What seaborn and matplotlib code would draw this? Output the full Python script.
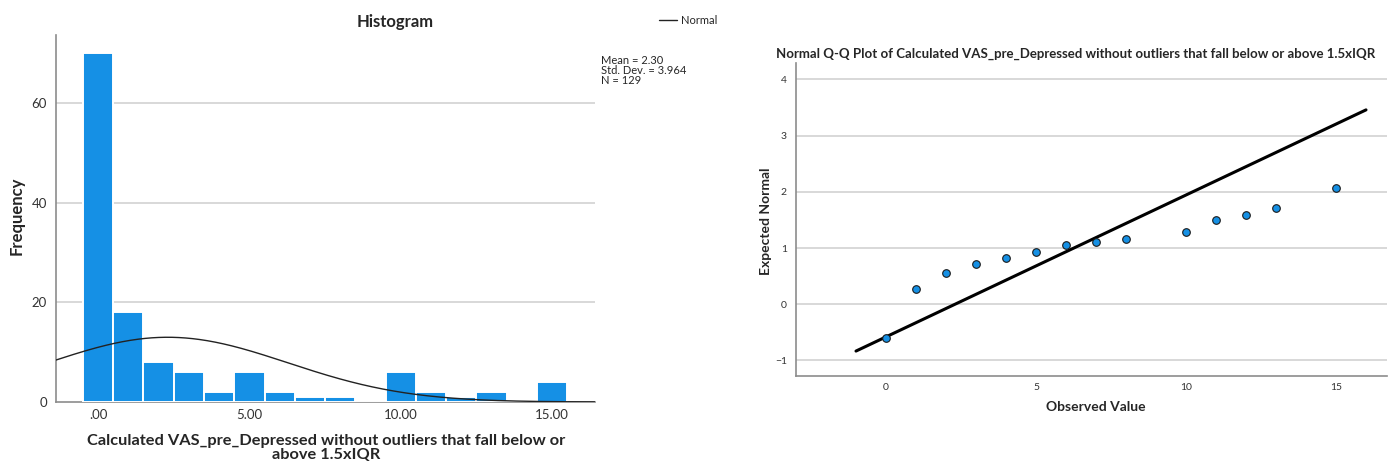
import numpy as np
import pandas as pd
import matplotlib
matplotlib.use("Agg")
import matplotlib.pyplot as plt
import seaborn as sns

# Frequency table of the score (integer values 0..15)
values = [0, 1, 2, 3, 4, 5, 6, 7, 8, 9, 10, 11, 12, 13, 14, 15]
counts = [70, 18, 8, 6, 2, 6, 2, 1, 1, 0, 6, 2, 1, 2, 0, 4]

# Summary statistics shown beside the histogram
mean_val = 2.30
sd_val = 3.964
n_val = 129

# Normal Q-Q plot: distinct observed values and their expected normal scores
qq_observed = [0, 1, 2, 3, 4, 5, 6, 7, 8, 10, 11, 12, 13, 15]
qq_expected = [-0.607, 0.27, 0.55, 0.715, 0.82, 0.935, 1.06, 1.115, 1.155,
               1.29, 1.50, 1.595, 1.71, 2.07]

hist_ticks = [0, 5, 10, 15]
hist_tick_labels = [".00", "5.00", "10.00", "15.00"]
qq_xticks = [0, 5, 10, 15]
qq_yticks = [-1, 0, 1, 2, 3, 4]

BAR = "#1590E5"
GRID = "#D6D6D6"
SPINE = "#8C8C8C"
FONT = ["Lato", "DejaVu Sans"]
W, H = 1388, 469


def fx(px):
    return px / W


def fy(py):
    return 1 - py / H


sns.set_theme(style="white")
plt.rcParams["font.family"] = FONT

fig = plt.figure(figsize=(13.88, 4.69), dpi=100)

# ---------------- Histogram ----------------
ax1 = fig.add_axes([fx(56), fy(402), (595 - 56) / W, (402 - 35) / H])
df = pd.DataFrame({"value": values, "count": counts})
sns.histplot(data=df, x="value", weights="count", discrete=True, ax=ax1,
             color=BAR, alpha=1.0, edgecolor="white", linewidth=1.4, zorder=3)

xs = np.linspace(-1.39, 16.42, 400)
pdf = n_val * 1.0 / (sd_val * np.sqrt(2 * np.pi)) * np.exp(-0.5 * ((xs - mean_val) / sd_val) ** 2)
ax1.plot(xs, pdf, color="#222222", lw=1.0, zorder=4)

ax1.set_xlim(-1.39, 16.42)
ax1.set_ylim(0, 73.6)
ax1.set_xticks(hist_ticks)
ax1.set_xticklabels(hist_tick_labels)
ax1.set_yticks([0, 20, 40, 60])
for yv in [20, 40, 60]:
    ax1.axhline(yv, color=GRID, lw=1.3, zorder=1)
ax1.set_xlabel("")
ax1.set_ylabel("")
for s in ["top", "right"]:
    ax1.spines[s].set_visible(False)
for s in ["left", "bottom"]:
    ax1.spines[s].set_color(SPINE)
    ax1.spines[s].set_linewidth(1.2)
ax1.tick_params(axis="both", labelsize=9.5, colors="#333333", length=3, width=0.8)
ax1.tick_params(axis="x", length=0, pad=5)

fig.text(fx(326), fy(448), "Calculated VAS_pre_Depressed without outliers that fall below or\nabove 1.5xIQR",
         fontsize=11.8, fontweight="bold", ha="center", va="center", linespacing=0.95)
fig.text(fx(17), fy(216), "Frequency", fontsize=12, fontweight="bold",
         rotation=90, ha="center", va="center")
fig.text(fx(395), fy(22), "Histogram", fontsize=12, fontweight="bold",
         ha="center", va="center")
fig.add_artist(plt.Line2D([fx(659), fx(677)], [fy(20), fy(20)], color="#222222", lw=1.0))
fig.text(fx(681), fy(20), "Normal", fontsize=8, ha="left", va="center")
fig.text(fx(601), fy(55),
         f"Mean = {mean_val:.2f}\nStd. Dev. = {sd_val:.3f}\nN = {n_val}",
         fontsize=8, ha="left", va="top", linespacing=0.88)

# ---------------- Normal Q-Q plot ----------------
ax2 = fig.add_axes([fx(796), fy(376), (1387 - 796) / W, (376 - 63) / H])
line_x = np.array([-1.0, 16.0])
ax2.plot(line_x, (line_x - mean_val) / sd_val, color="black", lw=2.2, zorder=3)
qq = pd.DataFrame({"observed": qq_observed, "expected": qq_expected})
sns.scatterplot(data=qq, x="observed", y="expected", ax=ax2, s=30, color=BAR,
                edgecolor="#1a1a1a", linewidth=0.8, zorder=4)
ax2.set_xlim(-3.0, 16.7)
ax2.set_ylim(-1.276, 4.29)
ax2.set_xticks(qq_xticks)
ax2.set_yticks(qq_yticks)
ax2.set_yticklabels([str(v).replace("-", "\u2212") for v in qq_yticks])
for yv in qq_yticks:
    ax2.axhline(yv, color=GRID, lw=1.3, zorder=1)
ax2.set_xlabel("")
ax2.set_ylabel("")
for s in ["top", "right"]:
    ax2.spines[s].set_visible(False)
for s in ["left", "bottom"]:
    ax2.spines[s].set_color(SPINE)
    ax2.spines[s].set_linewidth(1.2)
ax2.tick_params(axis="both", labelsize=7.5, colors="#333333", length=3, width=0.8)
ax2.tick_params(axis="x", length=0, pad=5)

fig.text(fx(1076), fy(54),
         "Normal Q-Q Plot of Calculated VAS_pre_Depressed without outliers that fall below or above 1.5xIQR",
         fontsize=9.5, fontweight="bold", ha="center", va="center")
fig.text(fx(1096), fy(407), "Observed Value", fontsize=10, fontweight="bold",
         ha="center", va="center")
fig.text(fx(766), fy(221), "Expected Normal", fontsize=10, fontweight="bold",
         rotation=90, ha="center", va="center")

fig.savefig("out.png", dpi=100, facecolor="white")
